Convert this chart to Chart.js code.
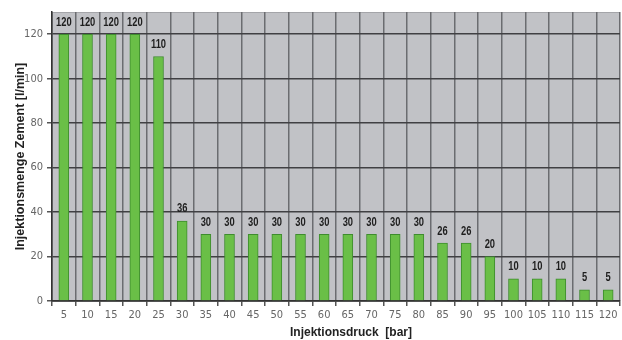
<!DOCTYPE html>
<html>
<head>
<meta charset="utf-8">
<script src="https://cdn.jsdelivr.net/npm/chart.js@4/dist/chart.umd.min.js"></script>
<style>
  html, body { margin: 0; padding: 0; background: #fff; }
  #wrap { width: 622px; height: 340px; }
</style>
</head>
<body>
<div id="wrap"><canvas id="chart"></canvas></div>
<script>
/* ── DATA ─────────────────────────────────────────────────────── */
const pressures = ['5','10','15','20','25','30','35','40','45','50','55','60',
                   '65','70','75','80','85','90','95','100','105','110','115','120'];
const flowRates = [120,120,120,120,110,36,30,30,30,30,30,30,
                   30,30,30,30,26,26,20,10,10,10,5,5];
const yTicks    = [0, 20, 40, 60, 80, 100, 120];
const xTitle    = 'Injektionsdruck  [bar]';

const NARROW = "'DejaVu Sans Condensed', 'Liberation Sans Narrow', Arial, sans-serif";
const SANS   = "'Liberation Sans', Arial, sans-serif";

/* ── PLOT BACKGROUND ─────────────────────────────────────────── */
const plotBg = {
  id: 'plotBg',
  beforeDraw(chart) {
    const { ctx, chartArea: a } = chart;
    ctx.save();
    ctx.fillStyle = '#c1c2c6';
    ctx.fillRect(a.left, a.top, a.right - a.left, a.bottom - a.top);
    ctx.strokeStyle = '#a4a5a9';
    ctx.lineWidth = 1;
    ctx.strokeRect(a.left + 0.5, a.top + 0.5, a.right - a.left - 1, a.bottom - a.top);
    ctx.restore();
  }
};

/* ── VALUE LABELS + X TITLE ──────────────────────────────────── */
const valueLabels = {
  id: 'valueLabels',
  afterDatasetsDraw(chart) {
    const { ctx } = chart;
    const meta = chart.getDatasetMeta(0);
    ctx.save();
    ctx.font = 'bold 12px ' + SANS;
    ctx.fillStyle = '#1e1e1e';
    ctx.textAlign = 'center';
    ctx.textBaseline = 'bottom';
    meta.data.forEach((bar, i) => {
      // squeeze horizontally to mimic the narrow bold face
      ctx.save();
      ctx.translate(bar.x, bar.y - 6);
      ctx.scale(0.78, 1);
      ctx.fillText(String(flowRates[i]), 0, 0);
      ctx.restore();
    });
    // x axis title (sits a bit right of centre in the original)
    ctx.font = 'bold 12px ' + SANS;
    ctx.fillStyle = '#222';
    ctx.textBaseline = 'middle';
    ctx.fillText(xTitle, 351, 333);
    ctx.restore();
  }
};

new Chart(document.getElementById('chart'), {
  type: 'bar',
  data: {
    labels: pressures,
    datasets: [{
      data: flowRates,
      backgroundColor: '#6abf47',
      borderColor: '#3e8c2e',
      borderWidth: 1,
      barThickness: 10,
    }]
  },
  options: {
    responsive: true,
    maintainAspectRatio: false,
    animation: false,
    layout: { padding: { left: 0, right: 2, top: 12, bottom: 0 } },
    plugins: {
      legend: { display: false },
      tooltip: { enabled: false }
    },
    scales: {
      x: {
        offset: true,
        grid: { offset: true, color: '#6b6c70', lineWidth: 1.5, tickLength: 5, tickColor: '#555' },
        border: { color: '#333', width: 1.5 },
        ticks: { color: '#666', font: { family: NARROW, size: 11 }, padding: 3, maxRotation: 0, autoSkip: false },
        afterFit(scale) { scale.height = 39; }
      },
      y: {
        min: 0,
        max: 130,
        afterBuildTicks(scale) { scale.ticks = yTicks.map(v => ({ value: v })); },
        grid: { color: '#404043', lineWidth: 1.5, tickLength: 5, tickColor: '#555' },
        border: { color: '#333', width: 1.5 },
        ticks: { color: '#666', font: { family: NARROW, size: 11 }, padding: 4 },
        title: {
          display: true,
          text: 'Injektionsmenge Zement [l/min]',
          color: '#222',
          font: { family: SANS, size: 12.5, weight: 'bold' },
          padding: { top: 13, bottom: 0 }
        },
        afterFit(scale) { scale.width = 52; }
      }
    }
  },
  plugins: [plotBg, valueLabels]
});
</script>
</body>
</html>
